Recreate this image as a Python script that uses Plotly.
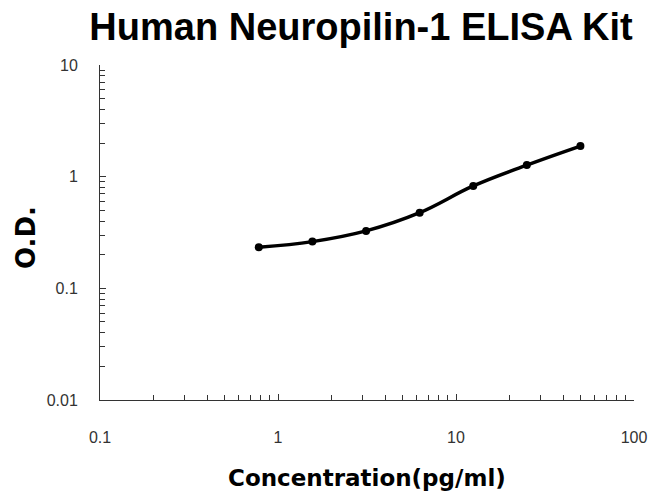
import plotly.graph_objects as go

# Data
concentration = [0.78, 1.56, 3.125, 6.25, 12.5, 25, 50]
od = [0.233, 0.262, 0.327, 0.476, 0.826, 1.27, 1.88]

title_text = "Human Neuropilin-1 ELISA Kit"
x_title = "Concentration(pg/ml)"
y_title = "O.D."
x_tickvals = [0.1, 1, 10, 100]
x_ticktext = ["0.1", "1", "10", "100"]
y_tickvals = [0.01, 0.1, 1, 10]
y_ticktext = ["0.01", "0.1", "1", "10"]

W, H = 653, 492
L, R, T, B = 100, 19, 65, 92

fig = go.Figure()
fig.add_trace(go.Scatter(
    x=concentration, y=od, mode="lines+markers",
    line=dict(color="black", width=3.5, shape="spline", smoothing=1.1),
    marker=dict(color="black", size=8),
    showlegend=False, hoverinfo="skip",
))

axis_common = dict(
    type="log", showgrid=False, zeroline=False, automargin=False,
    showline=True, linecolor="#333333", linewidth=1,
    ticks="inside", ticklen=6, tickcolor="#333333", tickwidth=1,
    tickfont=dict(family="Arial", size=16, color="#333333"),
    minor=dict(ticks="inside", ticklen=5, tickcolor="#333333", tickwidth=1,
               dtick="D1", showgrid=False),
)

fig.update_layout(
    width=W, height=H,
    margin=dict(l=L, r=R, t=T, b=B),
    paper_bgcolor="white", plot_bgcolor="white",
    title=dict(text="<b>" + title_text + "</b>", x=361 / W, xanchor="center",
               xref="container", yref="container", y=1 - 27 / H, yanchor="middle",
               font=dict(family="Arial", size=38, color="black")),
    xaxis=dict(axis_common, range=[-1, 2], tickvals=x_tickvals, ticktext=x_ticktext,
               ticklabelstandoff=23),
    yaxis=dict(axis_common, range=[-2, 1], tickvals=y_tickvals, ticktext=y_ticktext,
               ticklabelstandoff=18),
    annotations=[
        dict(text="<b>" + x_title + "</b>", xref="paper", yref="paper",
             x=0.5, y=(400 - 478) / 335, xanchor="center", yanchor="middle",
             showarrow=False, font=dict(family="DejaVu Sans", size=23, color="black")),
        dict(text="<b>" + y_title + "</b>", xref="paper", yref="paper",
             x=(25.5 - 100) / 534, y=(400 - 237.5) / 335, xanchor="center", yanchor="middle",
             textangle=-90, showarrow=False,
             font=dict(family="DejaVu Sans", size=26, color="black")),
    ],
)

fig.write_html("out.html", config={"displayModeBar": False},
               post_script="document.body.style.margin='0';document.body.style.padding='0';")
